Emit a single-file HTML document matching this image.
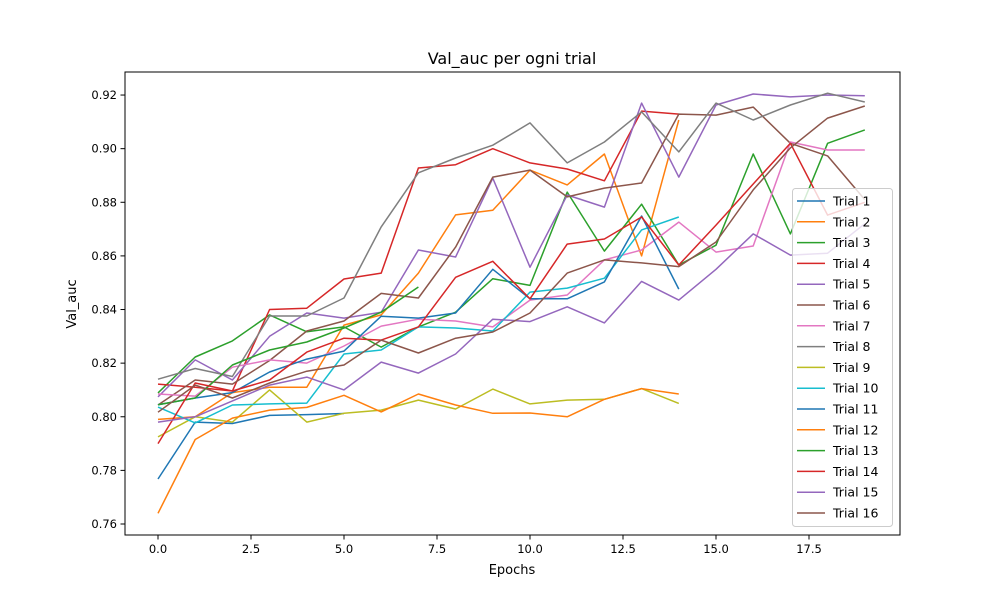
<!DOCTYPE html>
<html><head><meta charset="utf-8"><style>
body{margin:0;background:#fff;font-family:"Liberation Sans","DejaVu Sans",sans-serif}
svg text{font-family:"DejaVu Sans","Liberation Sans",sans-serif;fill:#000}
</style></head><body>
<svg id="chart" width="1000" height="600">
<rect width="1000" height="600" fill="#fff"/>
<g id="plot"></g>
<rect x="125" y="72" width="775" height="463" fill="none" stroke="#000" stroke-width="1"/>
<g id="axes"></g>
<text x="512" y="64" font-size="16" text-anchor="middle">Val_auc per ogni trial</text>
<text x="512" y="574" font-size="13" text-anchor="middle">Epochs</text>
<text x="0" y="0" font-size="13" text-anchor="middle" transform="translate(76,304) rotate(-90)">Val_auc</text>
<g id="legend"></g>
</svg>
<script>
const xTicks=[0,2.5,5,7.5,10,12.5,15,17.5];
const xTickLabels=["0.0","2.5","5.0","7.5","10.0","12.5","15.0","17.5"];
const yTicks=[0.76,0.78,0.80,0.82,0.84,0.86,0.88,0.90,0.92];
const yTickLabels=["0.76","0.78","0.80","0.82","0.84","0.86","0.88","0.90","0.92"];
const trialNames=["Trial 1","Trial 2","Trial 3","Trial 4","Trial 5","Trial 6","Trial 7","Trial 8","Trial 9","Trial 10","Trial 11","Trial 12","Trial 13","Trial 14","Trial 15","Trial 16"];
const colors=["#1f77b4","#ff7f0e","#2ca02c","#d62728","#9467bd","#8c564b","#e377c2","#7f7f7f","#bcbd22","#17becf","#1f77b4","#ff7f0e","#2ca02c","#d62728","#9467bd","#8c564b"];
const trial1=[0.7768,0.798,0.7975,0.8005,0.8008,0.8012];
const trial2=[0.799,0.800,0.809,0.811,0.811,0.8342,0.838,0.8536,0.8753,0.877,0.892,0.8865,0.898,0.860,0.9107];
const trial3=[0.8089,0.8223,0.8283,0.838,0.8317,0.8335,0.826,0.8335,0.839,0.8515,0.849,0.8838,0.8618,0.8793,0.8566,0.864,0.898,0.8682,0.902,0.907];
const trial4=[0.8122,0.811,0.8096,0.840,0.8405,0.8514,0.8536,0.8928,0.894,0.900,0.8947,0.8924,0.888,0.914,0.9129];
const trial5=[0.8074,0.8212,0.8137,0.830,0.8387,0.8368,0.839,0.8622,0.8596,0.889,0.8558,0.8827,0.8782,0.917,0.8894,0.9163,0.9204,0.9193,0.920,0.9197];
const trial6=[0.8044,0.8137,0.8122,0.821,0.832,0.8357,0.846,0.8443,0.8633,0.8894,0.892,0.882,0.8853,0.8872,0.9129,0.9125,0.9155,0.902,0.8973,0.881];
const trial7=[0.8085,0.8077,0.8185,0.8212,0.820,0.8264,0.8338,0.8364,0.8357,0.8335,0.8435,0.8454,0.8585,0.8622,0.8726,0.8614,0.8637,0.9025,0.8995,0.8995];
const trial8=[0.814,0.818,0.815,0.8376,0.8376,0.8443,0.8708,0.891,0.8965,0.9013,0.9096,0.8947,0.9025,0.9137,0.8988,0.917,0.9107,0.9163,0.9207,0.9174];
const trial9=[0.7925,0.800,0.798,0.810,0.798,0.8013,0.8025,0.8062,0.8029,0.8103,0.8048,0.8062,0.8065,0.8105,0.805];
const trial10=[0.8036,0.7977,0.8044,0.8048,0.8051,0.8234,0.8249,0.8335,0.8331,0.832,0.8465,0.848,0.8517,0.8697,0.8745];
const trial11=[0.8045,0.807,0.809,0.8167,0.8215,0.8245,0.8375,0.8368,0.8387,0.855,0.844,0.844,0.8503,0.8749,0.8476];
const trial12=[0.764,0.7915,0.7995,0.8025,0.8035,0.808,0.8018,0.8085,0.8044,0.8013,0.8014,0.800,0.8065,0.8105,0.8085];
const trial13=[0.8045,0.807,0.8193,0.8249,0.8279,0.8331,0.839,0.8484];
const trial14=[0.790,0.8126,0.8096,0.8137,0.8241,0.8293,0.8286,0.8335,0.852,0.858,0.844,0.8644,0.8663,0.8745,0.8566,0.8715,0.8868,0.902,0.8752,0.880];
const trial15=[0.798,0.800,0.8059,0.8118,0.8148,0.810,0.8204,0.8163,0.8234,0.8364,0.8355,0.841,0.835,0.8505,0.8435,0.855,0.8682,0.8603,0.861,0.872];
const trial16=[0.8017,0.8118,0.807,0.8126,0.817,0.8193,0.8286,0.8238,0.8293,0.8316,0.8387,0.8536,0.8585,0.8574,0.856,0.8652,0.8846,0.9003,0.9114,0.9159];
const series=[trial1,trial2,trial3,trial4,trial5,trial6,trial7,trial8,trial9,trial10,trial11,trial12,trial13,trial14,trial15,trial16];

const NS="http://www.w3.org/2000/svg";
function xs(v){return 158+v*37.2;}
function ys(v){return 524-(v-0.76)*2681;}
function mk(tag,attrs,parent){const e=document.createElementNS(NS,tag);for(const k in attrs)e.setAttribute(k,attrs[k]);parent.appendChild(e);return e;}
const plot=document.getElementById('plot'),axes=document.getElementById('axes'),legend=document.getElementById('legend');
series.forEach((s,i)=>{
  const p=mk('polyline',{points:s.map((v,j)=>xs(j).toFixed(1)+','+ys(v).toFixed(1)).join(' '),fill:'none',stroke:colors[i],'stroke-width':1.5,'stroke-linejoin':'round'},plot);
  
  
});
xTicks.forEach((t,i)=>{
  const x=xs(t);
  const l=mk('line',{x1:x,x2:x,y1:535,y2:539.5,stroke:'#000'},axes);
  
  
  const tx=mk('text',{x:x,y:553,'font-size':11.5,'text-anchor':'middle'},axes);
  tx.textContent=xTickLabels[i];
  
  
});
yTicks.forEach((t,i)=>{
  const y=ys(t);
  const l=mk('line',{x1:120.5,x2:125,y1:y,y2:y,stroke:'#000'},axes);
  
  
  const tx=mk('text',{x:117,y:y+4,'font-size':11.5,'text-anchor':'end'},axes);
  tx.textContent=yTickLabels[i];
  
  
});
const box=mk('rect',{x:792.5,y:188.5,width:100,height:338,rx:3,fill:'#fff','fill-opacity':0.8,stroke:'#ccc'},legend);


trialNames.forEach((n,i)=>{
  const y=201+i*20.8;
  const g=mk('g',{},legend);
  
  
  mk('line',{x1:797,x2:825,y1:y,y2:y,stroke:colors[i],'stroke-width':1.5},g);
  const t=mk('text',{x:833,y:y+4.5,'font-size':12.5},g);
  t.textContent=n;
});
</script>
</body></html>
